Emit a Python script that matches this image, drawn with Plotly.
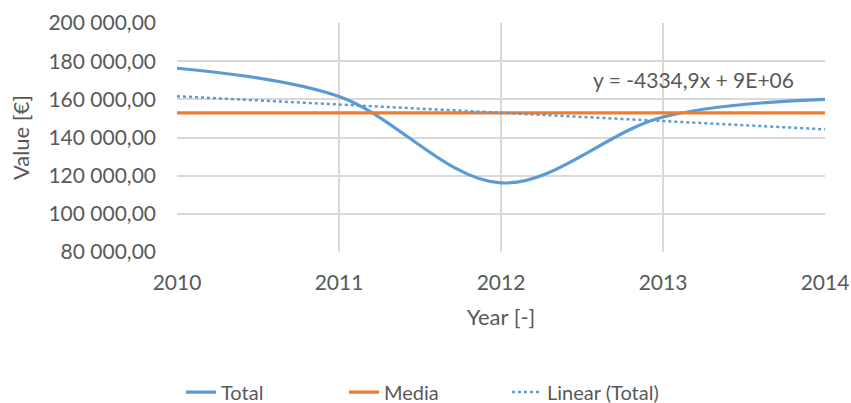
import plotly.graph_objects as go

years = [2010, 2011, 2012, 2013, 2014]
total = [176300, 161500, 116200, 150750, 160000]
media_value = 152950
trend_slope = -4334.9
trend_label = "y = -4334,9x + 9E+06"
y_ticks = [80000, 100000, 120000, 140000, 160000, 180000, 200000]

media = [media_value] * len(years)
mean_year = sum(years) / len(years)
mean_total = sum(total) / len(total)
trend = [mean_total + trend_slope * (y - mean_year) for y in years]

font_family = "Lato, 'Open Sans', sans-serif"
grey = "#595959"

fig = go.Figure()
fig.add_trace(go.Scatter(x=years, y=total, name="Total", mode="lines",
                         line=dict(color="#5b9bd5", width=3.2, shape="spline", smoothing=1)))
fig.add_trace(go.Scatter(x=years, y=media, name="Media", mode="lines",
                         line=dict(color="#ed7d31", width=3.2)))
fig.add_trace(go.Scatter(x=years, y=trend, name="Linear (Total)", mode="lines",
                         line=dict(color="#5b9bd5", width=2.5, dash="dot")))

fig.add_annotation(x=2013.19, y=170200, text=trend_label, showarrow=False,
                   xanchor="center", yanchor="middle",
                   font=dict(size=21, color=grey, family=font_family))

fig.update_layout(
    width=851, height=403,
    margin=dict(l=177, r=26, t=23, b=151),
    paper_bgcolor="white", plot_bgcolor="white",
    separators=", ",
    font=dict(family=font_family, size=21, color=grey),
    showlegend=True,
    legend=dict(orientation="h", xref="container", yref="container",
                x=0.5, xanchor="center", y=0.027, yanchor="middle",
                font=dict(size=20, color=grey), entrywidth=118, entrywidthmode="pixels"),
    xaxis=dict(range=[2010, 2014], tickvals=years, ticktext=[str(y) for y in years],
               showgrid=True, gridcolor="#d9d9d9", gridwidth=1.5, automargin=False,
               showline=False, zeroline=False, ticks="", ticklabelstandoff=16,
               tickfont=dict(size=21, color=grey),
               title=dict(text="Year [-]", font=dict(size=22, color=grey), standoff=16)),
    yaxis=dict(range=[80000, 200000], tickvals=y_ticks, tickformat=",.2f",
               showgrid=True, gridcolor="#d9d9d9", gridwidth=1.5, automargin=False,
               showline=False, zeroline=False, ticks="", ticklabelstandoff=20,
               tickfont=dict(size=21, color=grey),
               title=dict(text="Value [€]", font=dict(size=22, color=grey), standoff=12)),
)

fig.write_html("out.html")
